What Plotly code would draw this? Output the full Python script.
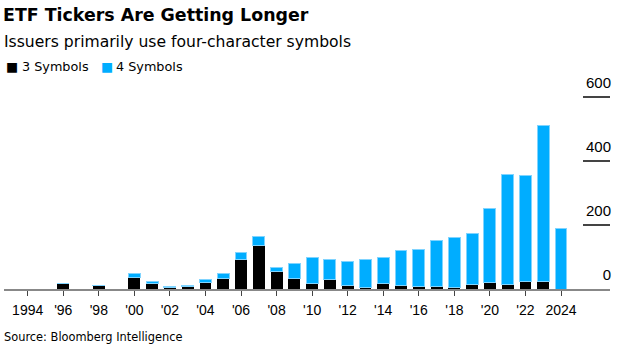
import plotly.graph_objects as go

years = list(range(1994, 2025))
three_symbols = [0, 0, 17, 0, 10, 0, 36, 17, 6, 7, 20, 32, 91, 136, 54, 34,
                 17, 29, 10, 6, 16, 10, 7, 7, 6, 15, 19, 15, 22, 25, 0]
four_symbols = [0, 0, 0, 0, 2, 0, 11, 5, 2, 4, 10, 15, 23, 29, 12, 45,
                80, 62, 76, 85, 81, 111, 115, 145, 155, 158, 234, 344, 334, 487, 189]

tick_years = list(range(1994, 2025, 2))
tick_text = ["1994"] + ["'" + str(y)[2:] for y in tick_years[1:-1]] + ["2024"]
y_ticks = [0, 200, 400, 600]

TXT_FONT = "DejaVu Sans, sans-serif"
NUM_FONT = "Liberation Sans, Arial, sans-serif"
BLUE = "#00adff"

# plot area in pixels (for placing header/footer text)
PLOT_L, PLOT_W = 4, 606
PLOT_TOP, PLOT_BOT = 65, 289
PLOT_H = PLOT_BOT - PLOT_TOP


def px_x(px):
    return (px - PLOT_L) / PLOT_W


def px_y(py):
    return (PLOT_BOT - py) / PLOT_H


fig = go.Figure()
fig.add_bar(x=years, y=three_symbols, name="3 Symbols", width=0.67,
            marker=dict(color="#000000", line=dict(width=0)))
fig.add_bar(x=years, y=four_symbols, name="4 Symbols", width=0.67,
            marker=dict(color=BLUE, line=dict(width=1, color="#80d4ff")))

fig.update_layout(
    barmode="stack",
    width=621, height=350,
    margin=dict(l=PLOT_L, r=621 - PLOT_L - PLOT_W, t=PLOT_TOP, b=350 - PLOT_BOT),
    paper_bgcolor="white", plot_bgcolor="white",
    showlegend=False,
    font=dict(family=TXT_FONT, color="#000000"),
    xaxis=dict(
        range=[1992.667, 2026.756],
        tickvals=tick_years, ticktext=tick_text,
        ticks="outside", ticklen=5, tickwidth=1, tickcolor="#444444",
        showline=True, linecolor="#888888", linewidth=2,
        showgrid=False, zeroline=False,
        tickfont=dict(size=14, family=NUM_FONT, color="#000000"),
        ticklabelstandoff=2,
    ),
    yaxis=dict(
        range=[0, 700], side="right",
        tickvals=y_ticks,
        ticks="inside", ticklen=27, tickwidth=1.5, tickcolor="#444444",
        ticklabelposition="inside top",
        ticklabelshift=-3, ticklabelstandoff=-4,
        showgrid=False, zeroline=False, showline=False,
        tickfont=dict(size=15, family=NUM_FONT, color="#000000"),
    ),
    title=dict(
        text="<b>ETF Tickers Are Getting Longer</b>",
        font=dict(size=17.4, family=TXT_FONT, color="#000000"),
        xref="container", yref="container",
        x=3 / 621, xanchor="left", y=1 - 15 / 350, yanchor="middle",
    ),
)

fig.add_annotation(text="Issuers primarily use four-character symbols",
                   xref="paper", yref="paper", x=px_x(2), y=px_y(42),
                   xanchor="left", yanchor="middle", showarrow=False,
                   font=dict(size=15.6, family=TXT_FONT, color="#000000"))

legend_items = [("■", "#000000", 4), ("3 Symbols", "#000000", 20),
                ("■", BLUE, 99), ("4 Symbols", "#000000", 114)]
for txt, col, px in legend_items:
    fig.add_annotation(text=txt, xref="paper", yref="paper",
                       x=px_x(px), y=px_y(66),
                       xanchor="left", yanchor="middle", showarrow=False,
                       font=dict(size=12.8, family=TXT_FONT, color=col))

fig.add_annotation(text="Source: Bloomberg Intelligence",
                   xref="paper", yref="paper", x=px_x(2), y=px_y(337),
                   xanchor="left", yanchor="middle", showarrow=False,
                   font=dict(size=11.4, family=TXT_FONT, color="#000000"))

fig.write_html("out.html")
